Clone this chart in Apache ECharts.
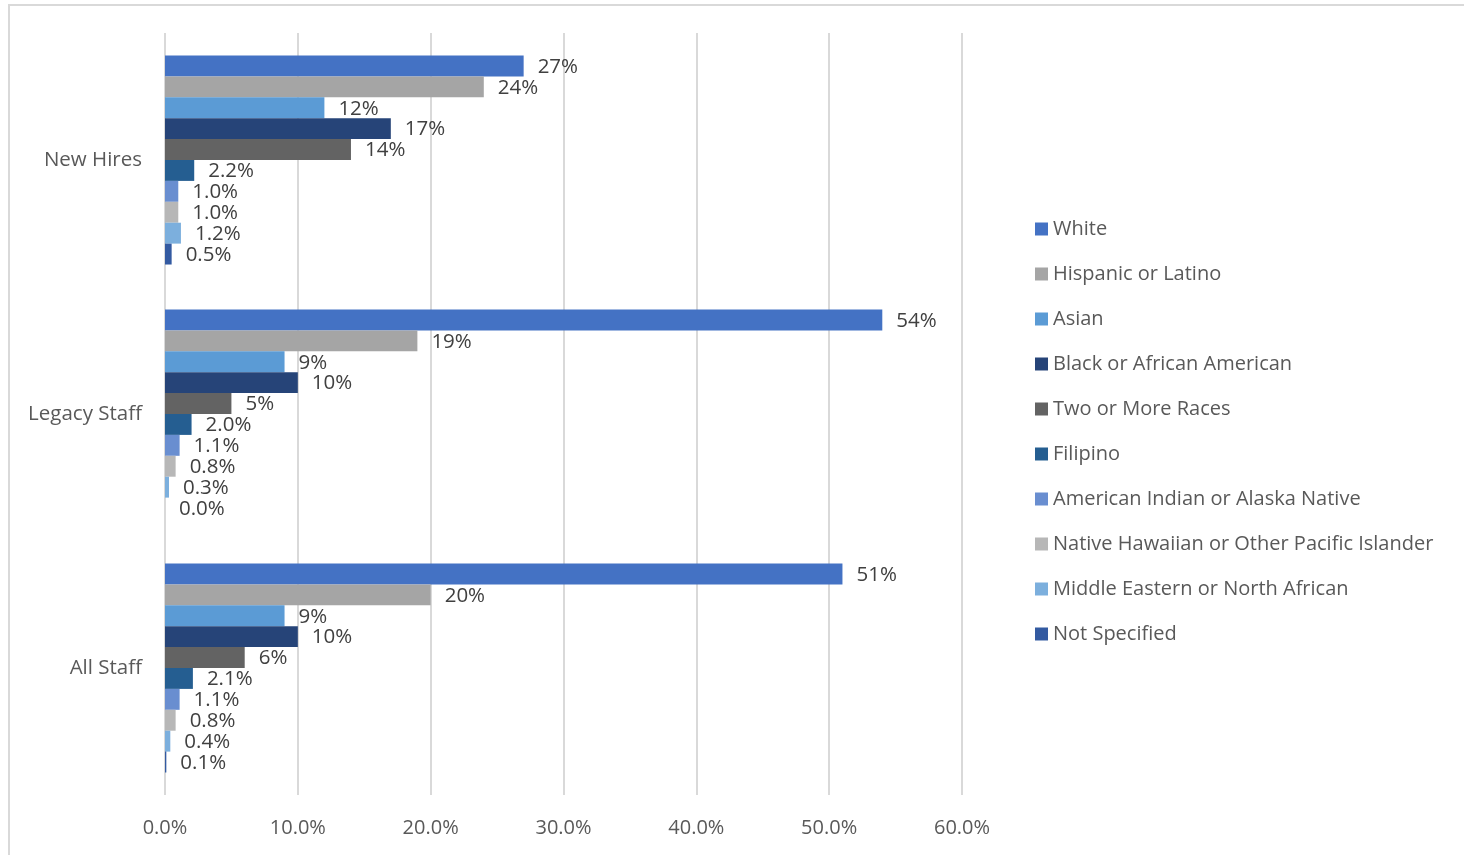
<!DOCTYPE html>
<html>
<head>
<meta charset="utf-8">
<script src="https://cdn.jsdelivr.net/npm/echarts@6/dist/echarts.min.js"></script>
<style>
  html, body { margin: 0; padding: 0; background: #fff; }
  #frame { position: absolute; left: 8px; top: 4px; width: 1470px; height: 870px; border: 2px solid #d9d9d9; box-sizing: border-box; }
  #chart { position: absolute; left: 0; top: 0; width: 1464px; height: 855px; }
</style>
</head>
<body>
<div id="frame"></div>
<div id="chart"></div>
<script>
// Staff groups (top to bottom)
const categories = ['New Hires', 'Legacy Staff', 'All Staff'];

// Race / ethnicity groups, in legend order
const seriesNames = [
  'White',
  'Hispanic or Latino',
  'Asian',
  'Black or African American',
  'Two or More Races',
  'Filipino',
  'American Indian or Alaska Native',
  'Native Hawaiian or Other Pacific Islander',
  'Middle Eastern or North African',
  'Not Specified'
];

const seriesColors = ['#4472C4', '#A5A5A5', '#5B9BD5', '#264478', '#636363',
                      '#255E91', '#698ED0', '#B7B7B7', '#7CAFDD', '#335AA1'];

// Percent of each staff group, one array per race / ethnicity
const white      = [27, 54, 51];
const hispanic   = [24, 19, 20];
const asian      = [12, 9, 9];
const black      = [17, 10, 10];
const twoOrMore  = [14, 5, 6];
const filipino   = [2.2, 2.0, 2.1];
const amIndian   = [1.0, 1.1, 1.1];
const hawaiian   = [1.0, 0.8, 0.8];
const midEastern = [1.2, 0.3, 0.4];
const notSpec    = [0.5, 0.0, 0.1];

const seriesValues = [white, hispanic, asian, black, twoOrMore,
                      filipino, amIndian, hawaiian, midEastern, notSpec];

// Axis tick values (percent)
const xTicks = [0, 10, 20, 30, 40, 50, 60];

const font = 'Open Sans, Liberation Sans, sans-serif';

function labelText(v) {
  return (v >= 3 ? v.toFixed(0) : v.toFixed(1)) + '%';
}

const chart = echarts.init(document.getElementById('chart'), null, { renderer: 'canvas' });

chart.setOption({
  animation: false,
  textStyle: { fontFamily: font },
  grid: { left: 165, right: 502, top: 33, bottom: 60, containLabel: false },
  legend: {
    orient: 'vertical',
    left: 1030,
    top: 214,
    itemWidth: 13,
    itemHeight: 13,
    itemGap: 25,
    icon: 'rect',
    textStyle: { fontSize: 20, color: '#595959', fontFamily: font },
    data: seriesNames
  },
  xAxis: {
    type: 'value',
    min: xTicks[0],
    max: xTicks[xTicks.length - 1],
    interval: 10,
    axisLine: { show: false },
    axisTick: { show: false },
    splitLine: { show: true, lineStyle: { color: '#d9d9d9', width: 2 } },
    axisLabel: {
      fontSize: 20, color: '#595959', margin: 23,
      formatter: v => v.toFixed(1) + '%'
    }
  },
  yAxis: {
    type: 'category',
    data: categories,
    inverse: true,
    axisLine: { show: false },
    axisTick: { show: false },
    axisLabel: { fontSize: 20.5, color: '#595959', margin: 23 }
  },
  series: seriesNames.map((name, i) => ({
    name: name,
    type: 'bar',
    data: seriesValues[i],
    barGap: '0%',
    barCategoryGap: '17.7%',
    itemStyle: { color: seriesColors[i] },
    label: {
      show: true,
      position: 'right',
      distance: 14,
      fontSize: 20.5,
      color: '#404040',
      fontFamily: font,
      offset: [0, 1],
      formatter: p => labelText(p.value)
    }
  }))
});
</script>
</body>
</html>
